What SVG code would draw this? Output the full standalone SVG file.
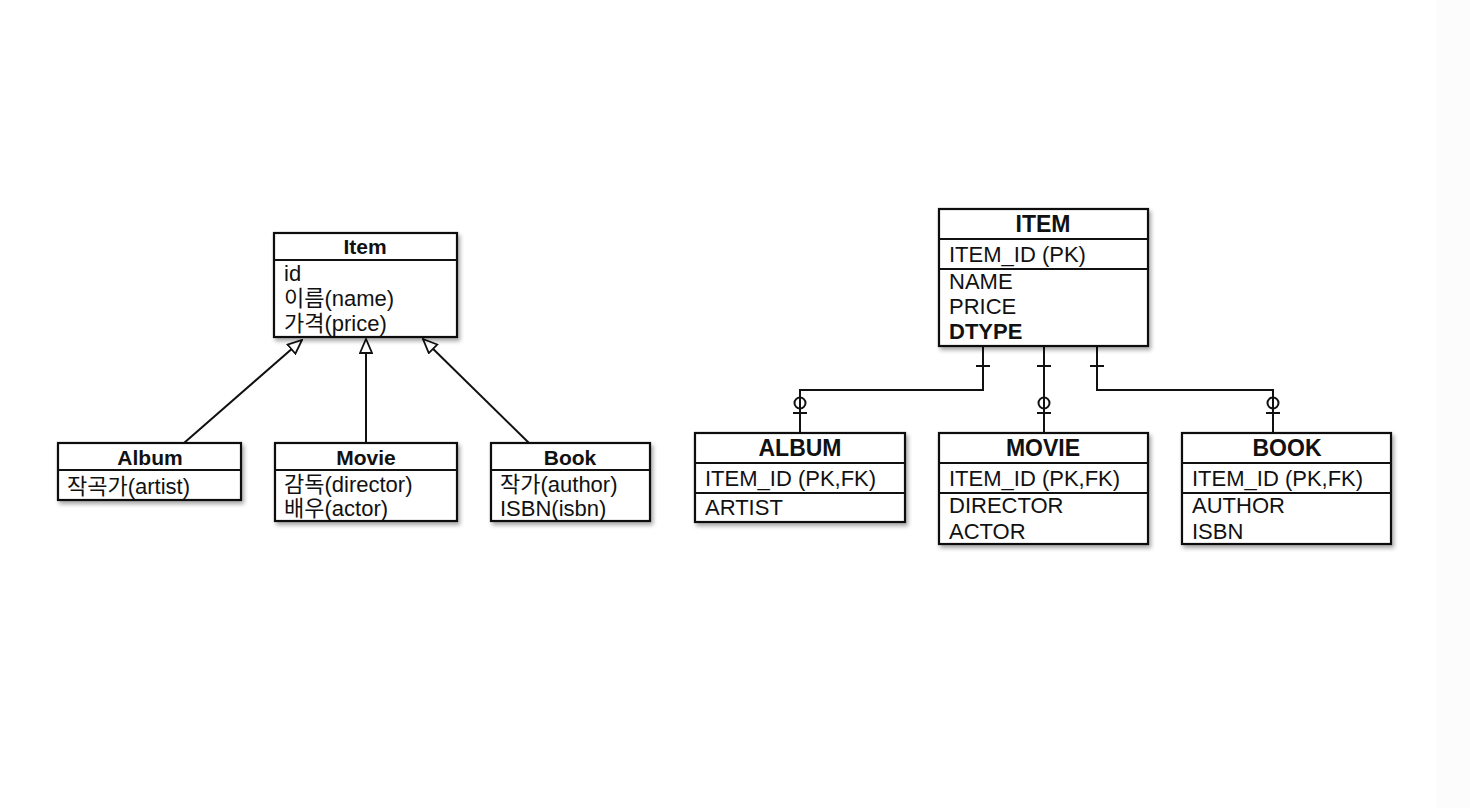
<svg xmlns="http://www.w3.org/2000/svg" width="1470" height="808" viewBox="0 0 1470 808">
<defs>
<filter id="sh" x="-10%" y="-10%" width="130%" height="140%">
<feDropShadow dx="2" dy="3" stdDeviation="2" flood-color="#000" flood-opacity="0.35"/>
</filter>
<marker id="tri" viewBox="0 0 16 14" refX="15" refY="7" markerWidth="16" markerHeight="14" markerUnits="userSpaceOnUse" orient="auto">
<path d="M1,1 L15,7 L1,13 Z" fill="#fff" stroke="#111" stroke-width="1.8"/>
</marker>
<style>
.box{fill:#fff;stroke:#111;stroke-width:2.2;filter:url(#sh)}
.sep{stroke:#111;stroke-width:2}
.t{font-family:"Liberation Sans","Noto Sans CJK KR",sans-serif;font-size:22px;fill:#111}
.h{font-family:"Liberation Sans","Noto Sans CJK KR",sans-serif;font-size:21px;font-weight:bold;fill:#111;text-anchor:middle}
.e{font-family:"Liberation Sans",sans-serif;font-size:22px;fill:#111}
.eh{font-family:"Liberation Sans",sans-serif;font-size:23px;font-weight:bold;fill:#111;text-anchor:middle}
.ln{fill:none;stroke:#111;stroke-width:2}
</style>
</defs>
<rect width="1470" height="808" fill="#fff"/>
<rect x="1436" y="0" width="34" height="808" fill="#fcfcfc"/>

<g id="connectors">
<line class="ln" x1="184" y1="443" x2="302" y2="340" marker-end="url(#tri)"/>
<line class="ln" x1="366" y1="443" x2="366" y2="339" marker-end="url(#tri)"/>
<line class="ln" x1="529" y1="443" x2="423" y2="339" marker-end="url(#tri)"/>
<path class="ln" d="M983,346 V390 H800 V433"/>
<path class="ln" d="M1044,346 V433"/>
<path class="ln" d="M1097,346 V390 H1273 V433"/>
<path class="ln" d="M976,366 H990 M1037,366 H1051 M1090,366 H1104"/>
<path class="ln" d="M793,413 H807 M1037,413 H1051 M1266,413 H1280"/>
<circle class="ln" cx="800" cy="403" r="5.5" fill="#fff"/>
<circle class="ln" cx="1044" cy="403" r="5.5" fill="#fff"/>
<circle class="ln" cx="1273" cy="403" r="5.5" fill="#fff"/>
</g>

<g id="Item">
<rect class="box" x="274" y="233" width="183" height="104"/>
<line class="sep" x1="274" y1="260" x2="457" y2="260"/>
<text class="h" x="365" y="254">Item</text>
<text class="t" x="284" y="281">id</text>
<text class="t" x="284" y="306">이름(name)</text>
<text class="t" x="284" y="331">가격(price)</text>
</g>

<g id="Album">
<rect class="box" x="58" y="443" width="183" height="57"/>
<line class="sep" x1="58" y1="470" x2="241" y2="470"/>
<text class="h" x="150" y="465">Album</text>
<text class="t" x="67" y="494">작곡가(artist)</text>
</g>

<g id="Movie">
<rect class="box" x="275" y="443" width="182" height="78"/>
<line class="sep" x1="275" y1="470" x2="457" y2="470"/>
<text class="h" x="366" y="465">Movie</text>
<text class="t" x="284" y="492">감독(director)</text>
<text class="t" x="284" y="516">배우(actor)</text>
</g>

<g id="Book">
<rect class="box" x="491" y="443" width="159" height="78"/>
<line class="sep" x1="491" y1="470" x2="650" y2="470"/>
<text class="h" x="570" y="465">Book</text>
<text class="t" x="500" y="492">작가(author)</text>
<text class="t" x="500" y="516">ISBN(isbn)</text>
</g>

<g id="ITEM">
<rect class="box" x="939" y="209" width="209" height="137"/>
<line class="sep" x1="939" y1="239" x2="1148" y2="239"/>
<line class="sep" x1="939" y1="269" x2="1148" y2="269"/>
<text class="eh" x="1043" y="232">ITEM</text>
<text class="e" x="949" y="262">ITEM_ID (PK)</text>
<text class="e" x="949" y="289">NAME</text>
<text class="e" x="949" y="314">PRICE</text>
<text class="e" x="949" y="339" font-weight="bold">DTYPE</text>
</g>

<g id="ALBUM">
<rect class="box" x="695" y="433" width="210" height="89"/>
<line class="sep" x1="695" y1="463" x2="905" y2="463"/>
<line class="sep" x1="695" y1="493" x2="905" y2="493"/>
<text class="eh" x="800" y="456">ALBUM</text>
<text class="e" x="705" y="486">ITEM_ID (PK,FK)</text>
<text class="e" x="705" y="515">ARTIST</text>
</g>

<g id="MOVIE">
<rect class="box" x="939" y="433" width="209" height="111"/>
<line class="sep" x1="939" y1="463" x2="1148" y2="463"/>
<line class="sep" x1="939" y1="493" x2="1148" y2="493"/>
<text class="eh" x="1043" y="456">MOVIE</text>
<text class="e" x="949" y="486">ITEM_ID (PK,FK)</text>
<text class="e" x="949" y="513">DIRECTOR</text>
<text class="e" x="949" y="539">ACTOR</text>
</g>

<g id="BOOK">
<rect class="box" x="1182" y="433" width="209" height="111"/>
<line class="sep" x1="1182" y1="463" x2="1391" y2="463"/>
<line class="sep" x1="1182" y1="493" x2="1391" y2="493"/>
<text class="eh" x="1287" y="456">BOOK</text>
<text class="e" x="1192" y="486">ITEM_ID (PK,FK)</text>
<text class="e" x="1192" y="513">AUTHOR</text>
<text class="e" x="1192" y="539">ISBN</text>
</g>
</svg>
